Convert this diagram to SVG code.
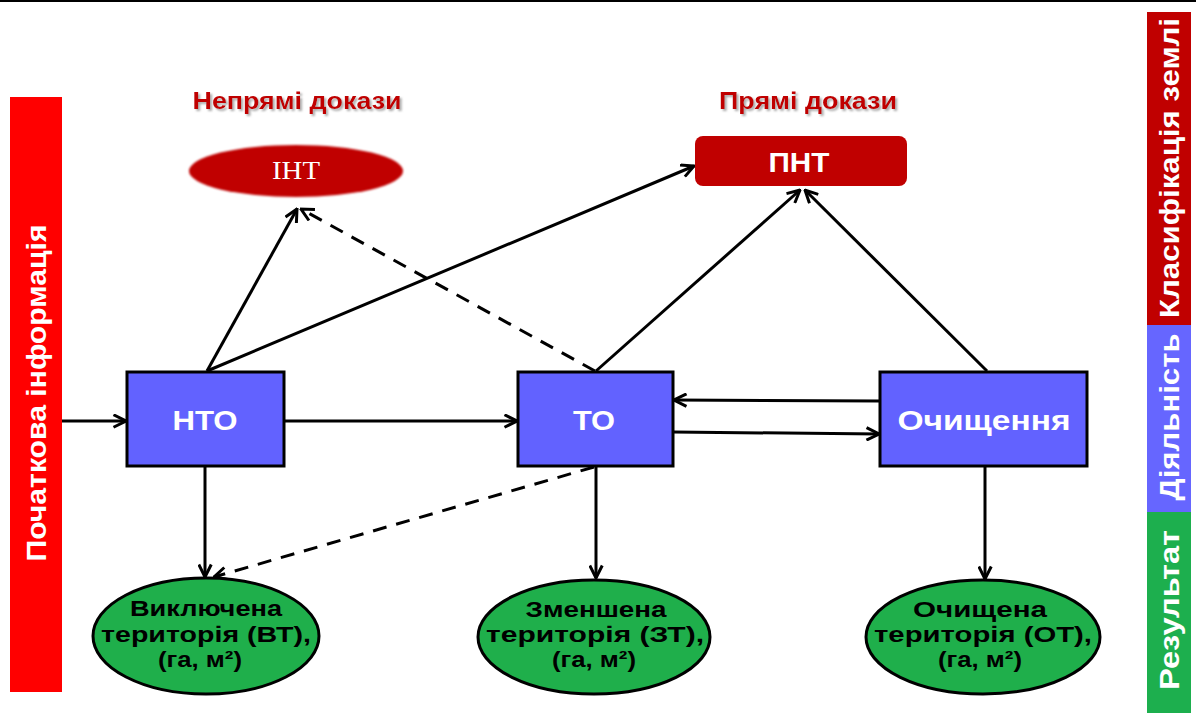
<svg xmlns="http://www.w3.org/2000/svg" width="1196" height="715" viewBox="0 0 1196 715">
<style>
.box{fill:#6262FF;stroke:#000;stroke-width:3}
.res{fill:#1FAF4B;stroke:#000;stroke-width:3}
.bt{font-family:"Liberation Sans",Arial,sans-serif;font-weight:bold;font-size:28px;fill:#fff;text-anchor:middle}
.rt{font-family:"Liberation Sans",Arial,sans-serif;font-weight:bold;font-size:22px;fill:#000;text-anchor:middle}
.side{font-family:"Liberation Sans",Arial,sans-serif;font-weight:bold;font-size:27px;fill:#fff;text-anchor:middle}
.title{font-family:"Liberation Sans",Arial,sans-serif;font-weight:bold;font-size:24px;fill:#C00000;text-anchor:middle}
.ln{fill:none;stroke:#000;stroke-width:3}
.dash{stroke-dasharray:14 10}
</style>
<defs>
<marker id="arr" viewBox="0 0 12 12" refX="11" refY="6" markerWidth="15" markerHeight="15" markerUnits="userSpaceOnUse" orient="auto">
<path d="M1,1 L11,6 L1,11" fill="none" stroke="#000" stroke-width="2.4"/>
</marker>
<filter id="shadow" x="-10%" y="-30%" width="120%" height="160%">
<feDropShadow dx="2" dy="2" stdDeviation="1" flood-color="#888" flood-opacity="0.7"/>
</filter>
<filter id="soft" x="-10%" y="-30%" width="120%" height="160%">
<feGaussianBlur stdDeviation="1.2"/>
</filter>
</defs>
<rect x="0" y="0" width="1196" height="2" fill="#000"/>

<g id="side-left">
<rect x="10" y="97" width="52" height="595" fill="#FF0000"/>
<text class="side" transform="translate(46,393) rotate(-90)" textLength="337" lengthAdjust="spacingAndGlyphs">Початкова інформація</text>
</g>
<g id="side-right">
<rect x="1147" y="12" width="44" height="313" fill="#C00000"/>
<rect x="1147" y="325" width="44" height="187" fill="#6666FF"/>
<rect x="1147" y="512" width="44" height="201" fill="#1DAF4E"/>
<text class="side" transform="translate(1179,168) rotate(-90)" textLength="300" lengthAdjust="spacingAndGlyphs">Класифікація землі</text>
<text class="side" transform="translate(1179,417) rotate(-90)" textLength="167" lengthAdjust="spacingAndGlyphs">Діяльність</text>
<text class="side" transform="translate(1179,610) rotate(-90)" textLength="160" lengthAdjust="spacingAndGlyphs">Результат</text>
</g>

<g id="title-indirect"><text class="title" x="297" y="109" filter="url(#shadow)" textLength="209" lengthAdjust="spacingAndGlyphs">Непрямі докази</text></g>
<g id="title-direct"><text class="title" x="808" y="109" filter="url(#shadow)" textLength="178" lengthAdjust="spacingAndGlyphs">Прямі докази</text></g>

<g id="connectors">
<line class="ln" x1="62" y1="421" x2="126" y2="421" marker-end="url(#arr)"/>
<line class="ln" x1="207" y1="371" x2="297" y2="209" marker-end="url(#arr)"/>
<line class="ln" x1="207" y1="371" x2="694" y2="166" marker-end="url(#arr)"/>
<line class="ln dash" x1="595" y1="371" x2="301" y2="209" marker-end="url(#arr)"/>
<line class="ln" x1="284" y1="421" x2="517" y2="421" marker-end="url(#arr)"/>
<line class="ln" x1="596" y1="371" x2="800" y2="190" marker-end="url(#arr)"/>
<line class="ln" x1="987" y1="371" x2="805" y2="190" marker-end="url(#arr)"/>
<line class="ln" x1="880" y1="401" x2="674" y2="400" marker-end="url(#arr)"/>
<line class="ln" x1="673" y1="432" x2="879" y2="434" marker-end="url(#arr)"/>
<line class="ln" x1="205" y1="466" x2="205" y2="577" marker-end="url(#arr)"/>
<line class="ln dash" x1="594" y1="467" x2="214" y2="577" marker-end="url(#arr)"/>
<line class="ln" x1="596" y1="466" x2="596" y2="578" marker-end="url(#arr)"/>
<line class="ln" x1="985" y1="466" x2="985" y2="579" marker-end="url(#arr)"/>
</g>

<g id="int">
<ellipse cx="296" cy="171" rx="107" ry="26" fill="#C00000" filter="url(#soft)"/>
<text x="296" y="179" font-family="'Liberation Serif','Times New Roman',serif" font-size="25" fill="#fff" text-anchor="middle" textLength="48" lengthAdjust="spacingAndGlyphs">ІНТ</text>
</g>
<g id="pnt">
<rect x="695" y="136" width="212" height="50" rx="8" fill="#C00000"/>
<text class="bt" x="799" y="172" textLength="61" lengthAdjust="spacingAndGlyphs">ПНТ</text>
</g>

<g id="nto">
<rect class="box" x="127" y="372" width="157" height="94"/>
<text class="bt" x="205" y="430" textLength="65" lengthAdjust="spacingAndGlyphs">НТО</text>
</g>
<g id="to">
<rect class="box" x="518" y="372" width="155" height="94"/>
<text class="bt" x="594" y="430" textLength="42" lengthAdjust="spacingAndGlyphs">ТО</text>
</g>
<g id="clean">
<rect class="box" x="880" y="372" width="207" height="94"/>
<text class="bt" x="984" y="430" textLength="173" lengthAdjust="spacingAndGlyphs">Очищення</text>
</g>

<g id="vt">
<ellipse class="res" cx="206" cy="636" rx="113" ry="58"/>
<text class="rt" x="206" y="616" textLength="152" lengthAdjust="spacingAndGlyphs">Виключена</text>
<text class="rt" x="206" y="642" textLength="210" lengthAdjust="spacingAndGlyphs">територія (ВТ),</text>
<text class="rt" x="200" y="667" textLength="84" lengthAdjust="spacingAndGlyphs">(га, м²)</text>
</g>
<g id="zt">
<ellipse class="res" cx="594" cy="637" rx="116" ry="57"/>
<text class="rt" x="596" y="617" textLength="141" lengthAdjust="spacingAndGlyphs">Зменшена</text>
<text class="rt" x="595" y="642" textLength="218" lengthAdjust="spacingAndGlyphs">територія (ЗТ),</text>
<text class="rt" x="594" y="667" textLength="84" lengthAdjust="spacingAndGlyphs">(га, м²)</text>
</g>
<g id="ot">
<ellipse class="res" cx="983" cy="637" rx="117" ry="57"/>
<text class="rt" x="980" y="617" textLength="134" lengthAdjust="spacingAndGlyphs">Очищена</text>
<text class="rt" x="983" y="642" textLength="218" lengthAdjust="spacingAndGlyphs">територія (ОТ),</text>
<text class="rt" x="980" y="667" textLength="84" lengthAdjust="spacingAndGlyphs">(га, м²)</text>
</g>
</svg>
